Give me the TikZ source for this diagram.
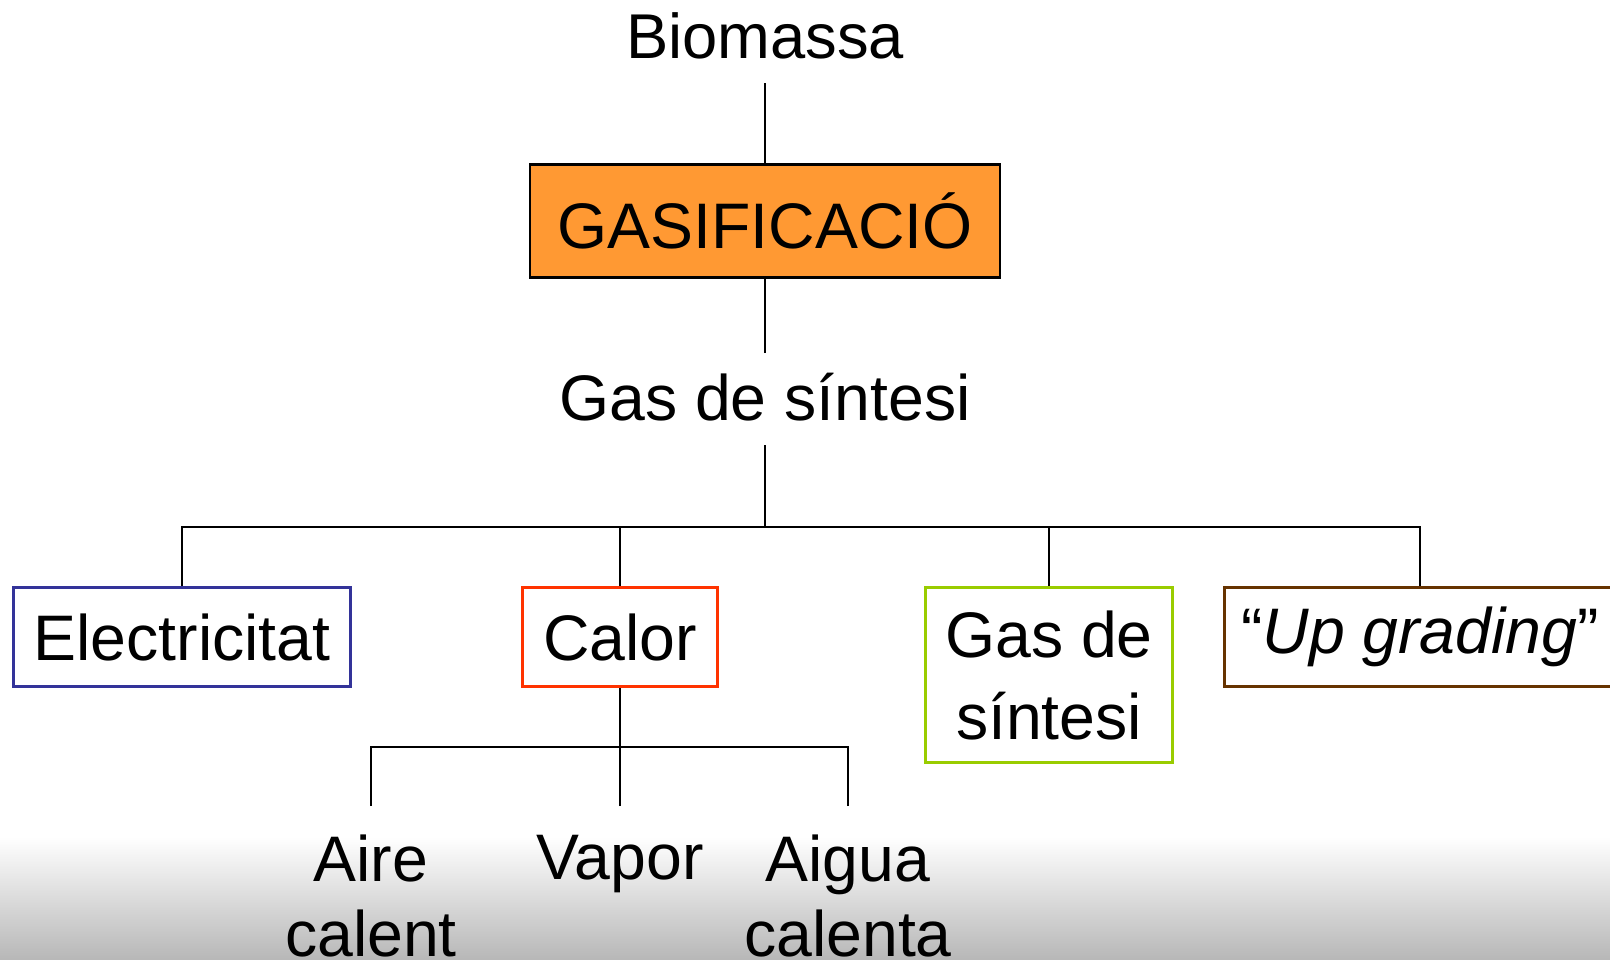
\documentclass[tikz,border=0pt]{standalone}
\usepackage{fontspec}
\setmainfont{Liberation Sans}
\usetikzlibrary{shapes.geometric, arrows}
\definecolor{gasorange}{HTML}{FF9933}
\definecolor{elecblue}{HTML}{333399}
\definecolor{calred}{HTML}{FF3300}
\definecolor{syngreen}{HTML}{99CC00}
\definecolor{upbrown}{HTML}{663300}
\tikzstyle{txt} = [inner sep=0pt, font=\fontsize{18.3}{22}\selectfont]
\tikzstyle{proc} = [rectangle, draw=black, fill=gasorange, line width=0.7pt, minimum width=47mm, minimum height=11.3mm, font=\fontsize{18.3}{22}\selectfont]
\tikzstyle{endbox} = [rectangle, line width=0.9pt, minimum height=9.9mm, align=center, font=\fontsize{18.3}{23.3}\selectfont]
\tikzstyle{link} = [line width=0.6pt]

\begin{document}
\begin{tikzpicture}[x=0.01cm, y=-0.01cm]
        \useasboundingbox (0,0) rectangle (1610,959);
        \shade [top color=white, bottom color=black!28] (0,837) rectangle (1610,959);
        \node [txt, anchor=base, font=\fontsize{18}{22}\selectfont] at (765,58) (bio) {Biomassa};
        \node [proc] at (765,221) (gasif) {GASIFICACIÓ};
        \node [txt, anchor=base] at (765,420) (syn) {Gas de síntesi};
        \node [endbox, draw=elecblue, minimum width=33.7mm] at (182,637) (elec) {Electricitat};
        \node [endbox, draw=calred, minimum width=19.5mm] at (620,637) (calor) {Calor};
        \node [endbox, draw=syngreen, minimum width=24.7mm, minimum height=17.5mm] at (1049,675) (gassyn) {Gas de\\síntesi};
        \node [endbox, draw=upbrown, minimum width=39.1mm] at (1420,637) (upg) {“\textit{Up grading}”};
        \node [txt, anchor=north, align=center, font=\fontsize{18.3}{21.3}\selectfont] at (371,834) (aire) {Aire\\calent};
        \node [txt, anchor=north] at (620,834) (vapor) {Vapor};
        \node [txt, anchor=north, align=center, font=\fontsize{18.3}{21.3}\selectfont] at (848,834) (aigua) {Aigua\\calenta};
        \draw [link] (bio.base) ++(0,25) -- (gasif.north);
        \draw [link] (syn.base) ++(0,-67) -- (gasif.south);
        \draw [link] (syn.base) ++(0,25) -- ++(0,82) coordinate (split);
        \draw [link] (elec.north) |- (split) -| (upg.north);
        \draw [link] (split) -| (calor.north);
        \draw [link] (split) -| (gassyn.north);
        \draw [link] (calor.south) -- ++(0,59) coordinate (heat);
        \draw [link] (aire.north) ++(0,-28) |- (heat);
        \draw [link] (aigua.north) ++(0,-28) |- (heat);
        \draw [link] (vapor.north) ++(0,-28) -- (heat);
        \end{tikzpicture}
\end{document}
